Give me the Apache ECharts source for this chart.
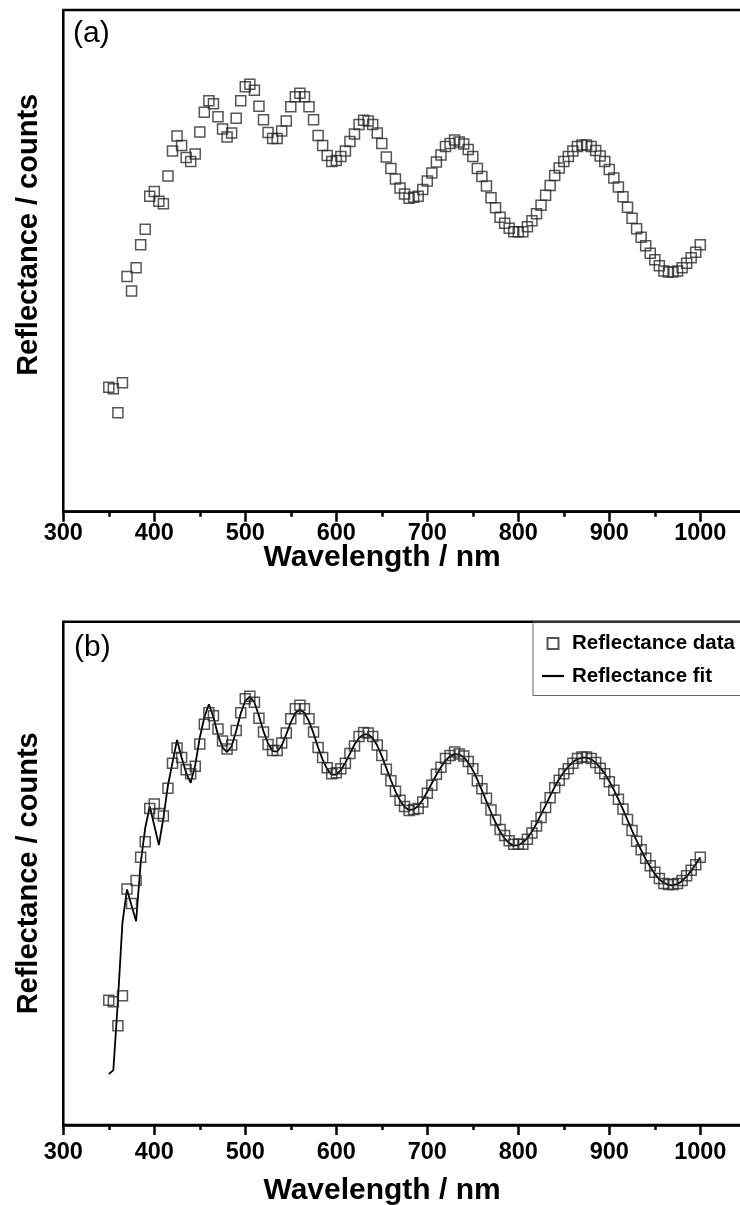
<!DOCTYPE html>
<html>
<head>
<meta charset="utf-8">
<script src="https://cdn.jsdelivr.net/npm/echarts@6/dist/echarts.min.js"></script>
<style>
html, body { margin: 0; padding: 0; background: #fff; }
#chart { width: 740px; height: 1205px; }
</style>
</head>
<body>
<div id="chart"></div>
<script>
// wavelength of each measured point (nm)
var wavelength = [
    350, 355, 360, 365, 370, 375, 380, 385, 390, 395, 400, 405, 410, 415, 420, 425, 430, 435, 440, 445,
    450, 455, 460, 465, 470, 475, 480, 485, 490, 495, 500, 505, 510, 515, 520, 525, 530, 535, 540, 545,
    550, 555, 560, 565, 570, 575, 580, 585, 590, 595, 600, 605, 610, 615, 620, 625, 630, 635, 640, 645,
    650, 655, 660, 665, 670, 675, 680, 685, 690, 695, 700, 705, 710, 715, 720, 725, 730, 735, 740, 745,
    750, 755, 760, 765, 770, 775, 780, 785, 790, 795, 800, 805, 810, 815, 820, 825, 830, 835, 840, 845,
    850, 855, 860, 865, 870, 875, 880, 885, 890, 895, 900, 905, 910, 915, 920, 925, 930, 935, 940, 945,
    950, 955, 960, 965, 970, 975, 980, 985, 990, 995, 1000
];
// measured reflectance (arbitrary counts)
var reflectanceData = [
    24.8, 24.5, 19.7, 25.7, 46.9, 44.0, 48.6, 53.2, 56.3, 62.9, 63.8, 61.9, 61.4, 66.9, 71.9, 74.9, 73.0, 70.6, 69.8, 71.3,
    75.7, 79.6, 81.9, 81.3, 78.7, 76.3, 74.7, 75.5, 78.4, 81.9, 84.7, 85.2, 84.0, 80.8, 78.1, 75.6, 74.4, 74.4, 75.9, 77.9,
    80.7, 82.7, 83.4, 82.7, 80.7, 78.1, 75.0, 73.0, 71.0, 69.8, 70.0, 70.8, 71.9, 73.8, 75.3, 77.2, 78.0, 77.9, 77.2, 75.5,
    73.4, 70.7, 68.4, 66.3, 64.5, 63.3, 62.5, 62.7, 62.9, 64.2, 65.9, 67.5, 69.7, 71.1, 72.8, 73.4, 74.1, 73.7, 73.3, 72.2,
    70.8, 68.4, 66.8, 64.9, 62.6, 60.6, 58.7, 57.5, 56.5, 55.8, 55.8, 55.8, 56.8, 58.0, 59.4, 61.1, 63.1, 65.0, 67.0, 68.5,
    69.8, 70.8, 71.9, 72.8, 73.1, 73.1, 72.8, 72.0, 70.9, 69.8, 68.2, 66.5, 64.7, 62.8, 60.7, 58.5, 56.4, 54.7, 53.0, 51.5,
    50.2, 49.0, 48.0, 47.8, 47.8, 48.0, 48.6, 49.5, 50.6, 51.7, 53.2
];
// fitted reflectance (same wavelengths)
var reflectanceFit = [
    10.1, 10.9, 24.7, 40.2, 46.8, 43.6, 40.5, 52.0, 59.0, 63.3, 59.5, 55.6, 61.0, 67.5, 72.0, 76.5, 73.0, 70.0, 68.0, 71.5,
    77.0, 81.0, 83.6, 81.0, 77.5, 75.0, 74.1, 75.3, 78.3, 81.8, 84.3, 85.1, 84.0, 81.3, 78.2, 75.8, 74.3, 74.2, 75.4, 77.6,
    80.0, 81.9, 82.5, 81.9, 80.2, 77.8, 75.0, 72.6, 70.7, 69.6, 69.6, 70.5, 72.0, 73.8, 75.6, 76.9, 77.6, 77.6, 76.9, 75.4,
    73.3, 70.9, 68.5, 66.3, 64.5, 63.2, 62.6, 62.7, 63.4, 64.6, 66.2, 67.9, 69.6, 71.1, 72.4, 73.3, 73.7, 73.6, 73.1, 72.0,
    70.5, 68.6, 66.5, 64.3, 62.1, 60.1, 58.3, 56.9, 56.0, 55.5, 55.6, 56.1, 57.0, 58.3, 59.9, 61.7, 63.5, 65.4, 67.2, 68.8,
    70.1, 71.2, 72.1, 72.7, 73.0, 73.0, 72.7, 72.0, 71.0, 69.8, 68.3, 66.6, 64.7, 62.7, 60.6, 58.5, 56.5, 54.6, 52.8, 51.3,
    49.9, 48.8, 48.1, 47.7, 47.6, 47.9, 48.5, 49.4, 50.5, 51.8, 53.2
];
var panelLabels = ['(a)', '(b)'];
var xTitle = 'Wavelength / nm';
var yTitle = 'Reflectance / counts';
var legendNames = ['Reflectance data', 'Reflectance fit'];

var font = 'Liberation Sans, Arial, Helvetica, sans-serif';

function pairs(ys) {
    var out = [];
    for (var i = 0; i < wavelength.length; i++) {
        out.push([wavelength[i], ys[i]]);
    }
    return out;
}

// two panels; the right edge of the frame falls just outside the page
var grids = [
    { left: 63.3, top: 10, width: 682.5, height: 501.7, labelMargin: 10, nameGap: 31, yShift: 52 },
    { left: 63.3, top: 621.7, width: 682.5, height: 503.3, labelMargin: 16, nameGap: 51, yShift: 0 }
];

var xAxes = [];
var yAxes = [];
grids.forEach(function (g, i) {
    // main axis: labels + long ticks
    xAxes.push({
        type: 'value', gridIndex: i, position: 'bottom',
        min: 300, max: 1050, interval: 100,
        name: xTitle, nameLocation: 'middle', nameGap: g.nameGap, nameMoveOverlap: false,
        nameTextStyle: { fontFamily: font, fontSize: 30, fontWeight: 'bold', color: '#000', padding: [0, 45, 0, 0] },
        axisLine: { onZero: false, lineStyle: { color: '#000', width: 2.5 } },
        axisTick: { inside: false, length: 10, lineStyle: { color: '#000', width: 2.5 } },
        axisLabel: {
            showMaxLabel: false, margin: g.labelMargin,
            fontFamily: font, fontSize: 23.5, fontWeight: 'bold', color: '#000',
            formatter: function (v) { return String(v); }
        },
        splitLine: { show: false }
    });
    // minor ticks every 50 nm
    xAxes.push({
        type: 'value', gridIndex: i, position: 'bottom',
        min: 300, max: 1050, interval: 50,
        axisLine: { show: false, onZero: false },
        axisTick: { inside: false, length: 5, lineStyle: { color: '#000', width: 2.5 } },
        axisLabel: { show: false },
        splitLine: { show: false }
    });
    yAxes.push({
        type: 'value', gridIndex: i, min: 0, max: 100,
        name: yTitle, nameLocation: 'middle', nameGap: 20, nameMoveOverlap: false,
        nameTextStyle: {
            fontFamily: font, fontSize: 29, fontWeight: 'bold', color: '#000',
            padding: [0, 0, 0, g.yShift]
        },
        axisLine: { show: false },
        axisTick: { show: false },
        axisLabel: { show: false },
        splitLine: { show: false }
    });
});

var squareStyle = { color: 'rgba(0,0,0,0)', borderColor: '#2a2a2a', borderWidth: 1.5 };

var option = {
    animation: false,
    backgroundColor: '#fff',
    title: [
        { text: panelLabels[0], left: 73, top: 19, padding: 0, textStyle: { fontFamily: font, fontSize: 30, fontWeight: 'normal', color: '#000' } },
        { text: panelLabels[1], left: 74, top: 633, padding: 0, textStyle: { fontFamily: font, fontSize: 30, fontWeight: 'normal', color: '#000' } }
    ],
    grid: grids.map(function (g) {
        return {
            left: g.left, top: g.top, width: g.width, height: g.height,
            outerBoundsMode: 'none', containLabel: false,
            show: true, borderColor: '#000', borderWidth: 2.5, backgroundColor: 'transparent'
        };
    }),
    legend: {
        data: [
            { name: legendNames[0], icon: 'path://M0,0L10,0L10,10L0,10Z' },
            { name: legendNames[1], icon: 'path://M0,0L22,0L22,2.2L0,2.2Z' }
        ],
        orient: 'vertical', left: 533, top: 622,
        padding: [11, 30, 9, 9], itemGap: 11.5,
        itemWidth: 22, itemHeight: 11,
        borderColor: '#666', borderWidth: 1,
        selectedMode: false,
        textStyle: { fontFamily: font, fontSize: 20.5, fontWeight: 'bold', color: '#000', padding: [0, 0, 0, 3] }
    },
    xAxis: xAxes,
    yAxis: yAxes,
    series: [
        {
            name: legendNames[0], type: 'scatter', xAxisIndex: 0, yAxisIndex: 0,
            symbol: 'rect', symbolSize: 10, itemStyle: squareStyle,
            data: pairs(reflectanceData)
        },
        {
            name: legendNames[1], type: 'line', xAxisIndex: 2, yAxisIndex: 1,
            symbol: 'none', smooth: false,
            lineStyle: { color: '#000', width: 1.8 },
            itemStyle: { color: '#000' },
            data: pairs(reflectanceFit), z: 2
        },
        {
            name: legendNames[0], type: 'scatter', xAxisIndex: 2, yAxisIndex: 1,
            symbol: 'rect', symbolSize: 10, itemStyle: squareStyle,
            data: pairs(reflectanceData), z: 3
        }
    ]
};

var myChart = echarts.init(document.getElementById('chart'), null, { renderer: 'canvas' });
myChart.setOption(option);
</script>
</body>
</html>
